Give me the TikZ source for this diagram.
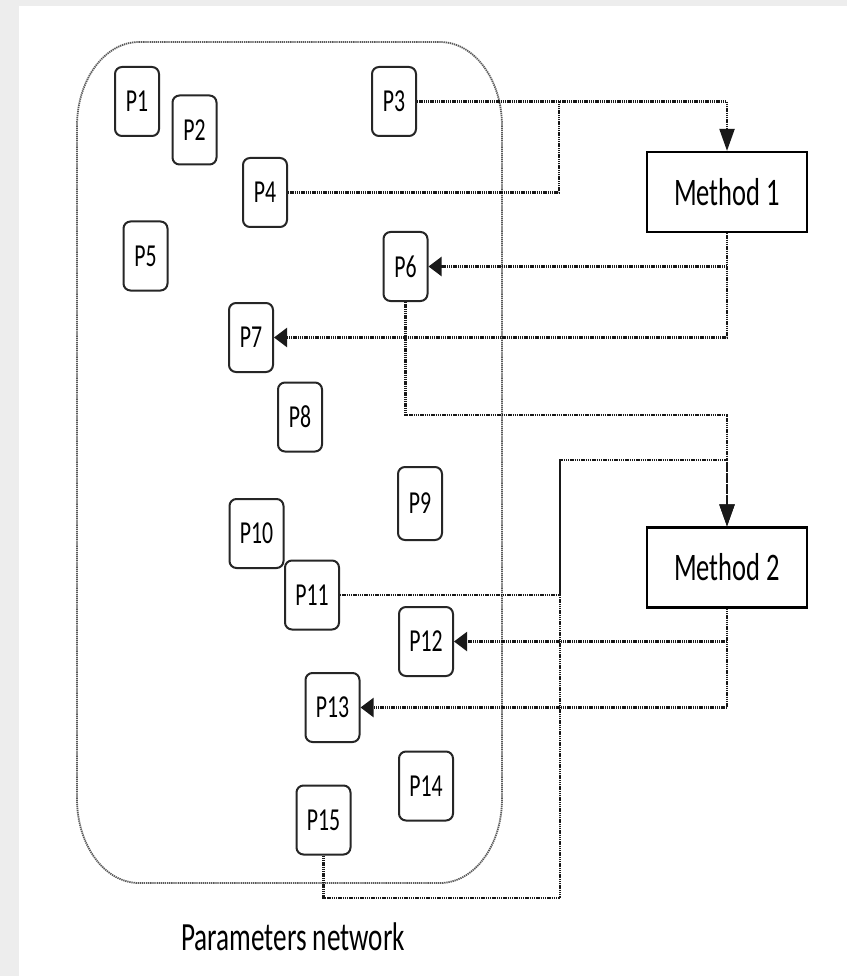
\documentclass[tikz,border=0pt]{standalone}
\usepackage{fontspec}
\setmainfont{Carlito}[FakeStretch=0.68]
\usetikzlibrary{arrows.meta}
\begin{document}
\begin{tikzpicture}[x=1pt,y=-1pt,
  pbox/.style={draw=black!85, line width=2pt, rounded corners=7pt, minimum width=44pt, minimum height=69pt, inner sep=0pt, font=\fontsize{32}{32}\selectfont},
  pwide/.style={pbox, minimum width=54pt},
  mbox/.style={draw=black, line width=2.2pt, minimum width=160pt, minimum height=80pt, inner sep=0pt, font=\fontsize{39}{39}\selectfont},
  conn/.style={draw=black!90, line width=2.1pt, dash pattern=on 1.4pt off 0.8pt},
  harr/.style={-{Triangle[length=13pt,width=19pt]}},
  varr/.style={-{Triangle[length=22pt,width=15pt]}},
  cont/.style={draw=black!65, line width=1.8pt, dash pattern=on 1.3pt off 0.8pt}
]
\useasboundingbox (0,0) rectangle (847,976);
\fill[black!7] (0,0) rectangle (847,976);
\fill[white] (19,6) rectangle (847,976);

% container (elliptical corners)
\draw[cont] (139,42) -- (440,42) .. controls (474.2,42) and (502,79.6) .. (502,126)
  -- (502,799) .. controls (502,845.4) and (474.2,883) .. (440,883)
  -- (139,883) .. controls (104.8,883) and (77,845.4) .. (77,799)
  -- (77,126) .. controls (77,79.6) and (104.8,42) .. (139,42) -- cycle;

% parameter nodes
\node[pbox] (P1) at (137,101.5) {P1};
\node[pbox] (P2) at (194.5,130) {P2};
\node[pbox] (P3) at (394,101.5) {P3};
\node[pbox] (P4) at (265,192.5) {P4};
\node[pbox] (P5) at (145.5,256) {P5};
\node[pbox] (P6) at (405.5,266.5) {P6};
\node[pbox] (P7) at (251,337.5) {P7};
\node[pbox] (P8) at (300,417) {P8};
\node[pbox, minimum height=73pt] (P9) at (420,503.5) {P9};
\node[pwide] (P10) at (256.5,533.5) {P10};
\node[pwide] (P11) at (312,595) {P11};
\node[pwide] (P12) at (426,641.5) {P12};
\node[pwide] (P13) at (332.5,707.5) {P13};
\node[pwide] (P14) at (426,786) {P14};
\node[pwide] (P15) at (323.5,820) {P15};

% methods
\node[mbox] (M1) at (727,192) {Method 1};
\node[mbox] (M2) at (727,567.5) {Method 2};

% label
\node[font=\fontsize{40}{40}\selectfont, inner sep=0pt] (lbl) at (293,937) {Parameters network};

% junction coordinates
\coordinate (j1) at (559,101.5);
\coordinate (b1) at (405.5,415);
\coordinate (j2) at (560,460);
\coordinate (b2) at (323.5,898);

% connectors into Method 1
\draw[conn,varr] (P3.east) -| (M1.north);
\draw[conn] (P4.east) -| (j1);
% out of Method 1
\draw[conn,harr] (M1.south) |- (P6.east);
\draw[conn,harr] (M1.south) |- (P7.east);

% connectors into Method 2
\draw[conn,varr] (P6.south) -- (b1) -| (M2.north);
\draw[conn,varr] (P11.east) -| (j2) -| (M2.north);
\draw[conn] (P15.south) -- (b2) -| (j2);
% out of Method 2
\draw[conn,harr] (M2.south) |- (P12.east);
\draw[conn,harr] (M2.south) |- (P13.east);
\end{tikzpicture}
\end{document}
